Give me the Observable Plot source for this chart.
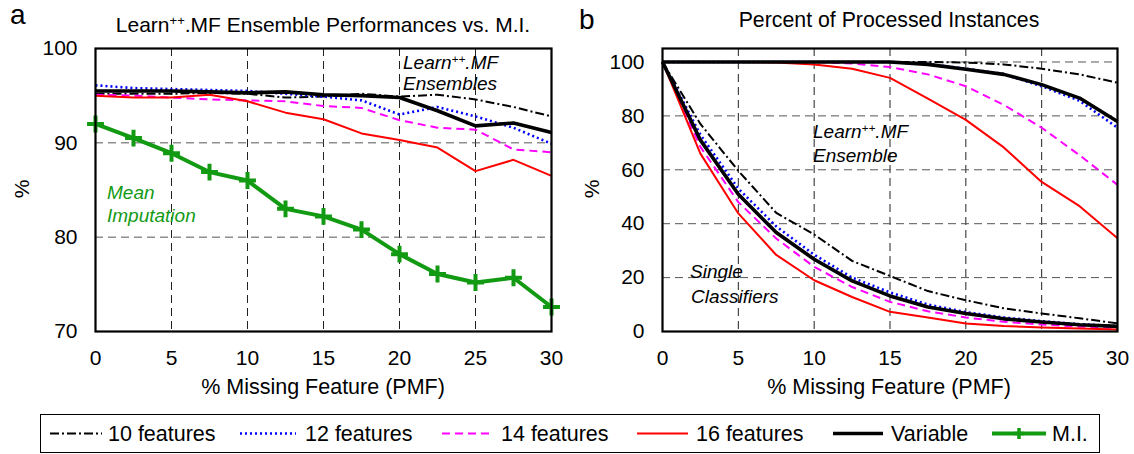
<!DOCTYPE html>
<html><head><meta charset="utf-8">
<script src="https://cdn.jsdelivr.net/npm/d3@7"></script>
<script src="https://cdn.jsdelivr.net/npm/@observablehq/plot@0.6"></script>
<style>
body{margin:0;background:#fff;font-family:"Liberation Sans",Arial,sans-serif;}
#root{position:relative;width:1134px;height:454px;overflow:hidden;background:#fff;}
.abs{position:absolute;white-space:nowrap;line-height:1;color:#000;}
.sup{position:relative;top:-0.55em;font-size:0.62em;}
.it{font-style:italic;font-size:19px;}
.c{transform:translateX(-50%);}
#legend{position:absolute;left:40px;top:414px;width:1058px;height:37px;border:1.5px solid #000;}
</style></head><body><div id="root"></div>
<script>
// ---- data ----
const pmf = [0, 2.5, 5, 7.5, 10, 12.5, 15, 17.5, 20, 22.5, 25, 27.5, 30];
// panel a: ensemble accuracy (%)
const acc10  = [95.2, 95.2, 95.2, 95.3, 95.2, 94.8, 94.9, 95.2, 94.9, 95.1, 94.6, 93.8, 92.8];
const acc12  = [96.1, 95.8, 95.7, 95.6, 95.5, 95.2, 94.9, 94.5, 93.0, 93.8, 92.8, 91.6, 89.9];
const acc14  = [95.1, 95.0, 94.8, 94.6, 94.5, 94.4, 93.9, 93.7, 92.4, 91.6, 91.4, 89.3, 89.0];
const acc16  = [95.0, 94.8, 94.8, 95.1, 94.4, 93.2, 92.5, 91.0, 90.3, 89.5, 87.0, 88.2, 86.5];
const accVar = [95.5, 95.5, 95.5, 95.4, 95.3, 95.4, 95.1, 95.0, 94.8, 93.4, 91.8, 92.1, 91.1];
const accMI  = [92.0, 90.5, 88.9, 86.9, 86.0, 83.0, 82.2, 80.8, 78.2, 76.1, 75.2, 75.7, 72.6];
// panel b: percent of processed instances, ensembles
const ens10  = [100, 100, 100, 100, 100, 100, 100, 100, 99.8, 99.1, 97.5, 95.4, 92.3];
const ens12  = [100, 100, 100, 100, 100, 100, 100, 99.2, 97.5, 95.5, 91.0, 85.6, 75.6];
const ens14  = [100, 100, 100, 100, 100, 99.4, 98.1, 95.4, 91.0, 84.1, 75.6, 65.4, 54.4];
const ens16  = [100, 100, 100, 99.8, 99.1, 97.5, 94.1, 86.4, 78.5, 68.3, 55.5, 46.5, 34.6];
const ensVar = [100, 100, 100, 100, 100, 100, 100, 99.1, 97.3, 95.4, 91.6, 86.6, 77.9];
// panel b: single classifiers
const sgl10  = [100, 77, 59.6, 44, 36, 26.2, 20.6, 15, 11.6, 8.6, 6.7, 4.9, 3.0];
const sgl12  = [100, 73, 53, 39, 28.5, 20, 14.5, 10, 7.2, 5.2, 3.8, 2.7, 2.0];
const sgl14  = [100, 68.5, 48, 34.5, 24, 16.5, 11, 7.5, 5.2, 3.6, 2.6, 1.8, 1.3];
const sgl16  = [100, 66, 43.8, 28.4, 19, 12.8, 7.3, 5.2, 3.0, 2.0, 1.5, 1.1, 0.7];
const sglVar = [100, 71, 50.9, 36.7, 26.8, 18.8, 13.2, 9.1, 6.7, 4.7, 3.5, 2.5, 1.9];

const seriesNames = ["10 features", "12 features", "14 features", "16 features", "Variable", "M.I."];
const seriesColors = ["#000000", "#0000ff", "#ff00ff", "#ff0000", "#000000", "#139a13"];
const seriesDash = ["9,3,2,3", "2,3", "8,5", null, null, null];
const seriesWidth = [2, 2.6, 2, 2, 3.6, 4];
const ticksA = [70, 80, 90, 100];
const ticksB = [0, 20, 40, 60, 80, 100];
const ticksX = [0, 5, 10, 15, 20, 25, 30];

// ---- tidy tables ----
function rows(name, group, vals) { return vals.map((v, i) => ({s: name, g: name + group, x: pmf[i], y: v})); }
const dataA = [
  ...rows(seriesNames[0], "a", acc10), ...rows(seriesNames[1], "a", acc12),
  ...rows(seriesNames[2], "a", acc14), ...rows(seriesNames[3], "a", acc16),
  ...rows(seriesNames[4], "a", accVar), ...rows(seriesNames[5], "a", accMI)
];
const dataB = [
  ...rows(seriesNames[0], "e", ens10), ...rows(seriesNames[0], "s", sgl10),
  ...rows(seriesNames[1], "e", ens12), ...rows(seriesNames[1], "s", sgl12),
  ...rows(seriesNames[2], "e", ens14), ...rows(seriesNames[2], "s", sgl14),
  ...rows(seriesNames[3], "e", ens16), ...rows(seriesNames[3], "s", sgl16),
  ...rows(seriesNames[4], "e", ensVar), ...rows(seriesNames[4], "s", sglVar)
];

function lineMarks(data) {
  return seriesNames.map((n, i) => Plot.line(data.filter(d => d.s === n), {
    x: "x", y: "y", z: "g", stroke: seriesColors[i], strokeWidth: seriesWidth[i],
    strokeDasharray: seriesDash[i] || undefined, strokeLinejoin: "round", strokeLinecap: "butt"
  }));
}

function panel(data, yDomain, yTicks, yGrid, extra, mr) {
  return Plot.plot({
    width: 567, height: 410,
    marginLeft: 95, marginRight: mr, marginTop: 48, marginBottom: 79,
    x: {domain: [0, 30]},
    y: {domain: yDomain},
    style: {fontFamily: "'Liberation Sans', Arial, sans-serif", fontSize: "21px", color: "#000", background: "transparent"},
    marks: [
      Plot.gridX({ticks: [5, 10, 15, 20, 25], stroke: "#222", strokeOpacity: 1, strokeWidth: 1, strokeDasharray: "8,5"}),
      Plot.gridY({ticks: yGrid, stroke: "#555", strokeOpacity: 1, strokeWidth: 1, strokeDasharray: "8,5"}),
      ...lineMarks(data),
      ...extra,
      Plot.frame({stroke: "#000", strokeWidth: 2.2}),
      Plot.axisX({ticks: ticksX, tickSize: 0, tickPadding: 19, label: null, fontSize: 21}),
      Plot.axisY({ticks: yTicks, tickSize: 0, tickPadding: 18, label: null, fontSize: 21})
    ]
  });
}

const root = document.getElementById("root");
function place(el, left, top) {
  const d = document.createElement("div");
  d.style.position = "absolute"; d.style.left = left + "px"; d.style.top = top + "px";
  d.appendChild(el); root.appendChild(d);
}
const miPts = dataA.filter(d => d.s === "M.I.");
place(panel(dataA, [70, 100], ticksA, [80, 90],
  [Plot.dot(miPts, {x: "x", y: "y", symbol: "plus", r: 5.5, stroke: seriesColors[5], strokeWidth: 4, strokeLinecap: "butt"})], 16), 0, 0);
place(panel(dataB, [0, 105], ticksB, [20, 40, 60, 80, 100], [], 17), 567, 0);

// ---- text ----
function txt(html, left, baseline, fs, cls, color) {
  const d = document.createElement("div");
  d.className = "abs " + (cls || "");
  d.style.fontSize = fs + "px";
  d.style.left = left + "px";
  d.style.top = (baseline - 0.8465 * fs) + "px";
  if (color) d.style.color = color;
  d.innerHTML = html;
  root.appendChild(d);
  return d;
}
txt("a", 10, 25, 28);
txt("b", 579, 30, 28);
txt("Learn<span class='sup'>++</span>.MF Ensemble Performances vs. M.I.", 323, 31.7, 21, "c");
txt("Percent of Processed Instances", 889, 28.3, 21.3, "c");
txt("% Missing Feature (PMF)", 323, 395, 21.5, "c");
txt("% Missing Feature (PMF)", 889, 395, 21.5, "c");
// y labels
[21, 591].forEach(x => {
  const d = txt("%", x, 0, 21, "");
  d.style.top = "189px";
  d.style.transform = "translate(-50%,-50%) rotate(-90deg)";
});
// annotations
txt("Learn<span class='sup'>++</span>.MF", 403, 69.3, 19, "it");
txt("Ensembles", 403, 90, 19, "it");
txt("Mean", 107, 199, 19, "it", seriesColors[5]);
txt("Imputation", 107, 221.7, 19, "it", seriesColors[5]);
txt("Learn<span class='sup'>++</span>.MF", 813, 138.3, 19, "it");
txt("Ensemble", 813, 161.7, 19, "it");
txt("Single", 690, 278.3, 19, "it");
txt("Classifiers", 691, 302.7, 19, "it");

// ---- legend ----
const legend = document.createElement("div");
legend.id = "legend";
root.appendChild(legend);
const legLine = [[9, 61], [199, 255], [401, 452], [596, 647], [792, 842], [951, 1005]];
const legText = [67, 264, 460, 655, 850, 1011];
const svg = d3.select(legend).append("svg").attr("width", 1058).attr("height", 37)
  .style("position", "absolute").style("left", "0px").style("top", "0px");
seriesNames.forEach((n, i) => {
  svg.append("line").attr("x1", legLine[i][0]).attr("x2", legLine[i][1]).attr("y1", 18.5).attr("y2", 18.5)
    .attr("stroke", seriesColors[i]).attr("stroke-width", seriesWidth[i])
    .attr("stroke-dasharray", seriesDash[i] || null);
  if (n === "M.I.") {
    const cx = (legLine[i][0] + legLine[i][1]) / 2;
    svg.append("path").attr("d", `M${cx - 5},18.5H${cx + 5}M${cx},13V24`)
      .attr("stroke", seriesColors[i]).attr("stroke-width", 3.5).attr("fill", "none");
  }
  svg.append("text").attr("x", legText[i]).attr("y", 18.5).attr("dy", "0.35em")
    .attr("font-size", 21.5).attr("font-family", "'Liberation Sans', Arial, sans-serif").text(n);
});
</script></body></html>
